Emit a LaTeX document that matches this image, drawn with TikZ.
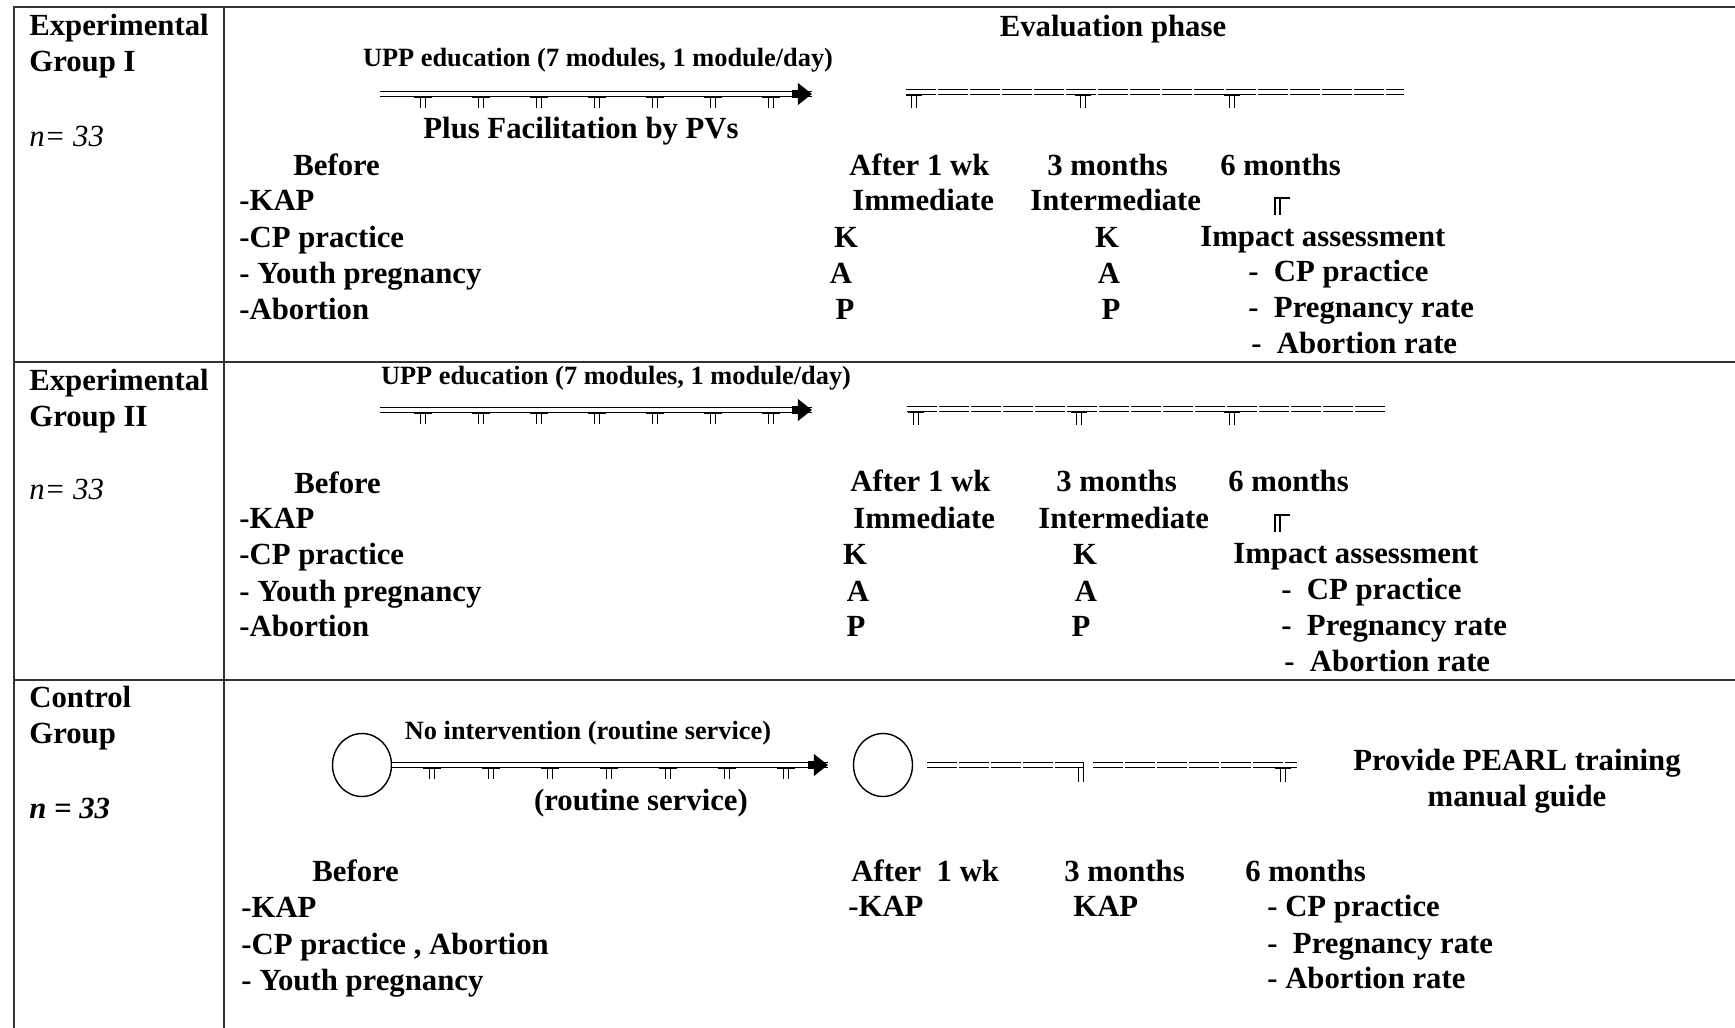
\documentclass[tikz,border=0pt]{standalone}
\usepackage{fontspec}
\setmainfont{Liberation Serif}
\usetikzlibrary{shapes.geometric,arrows.meta}

\newcommand{\bigtxt}{\bfseries\fontsize{17.5}{20.5}\selectfont}
\newcommand{\smalltxt}{\bfseries\fontsize{15}{18}\selectfont}

\begin{document}
\begin{tikzpicture}[x=0.02cm,y=-0.02cm,
    rule/.style={black!80,line width=0.9pt},
    txt/.style={anchor=west,font=\bigtxt,text height=13pt,text depth=2pt},
    ctr/.style={txt,anchor=center},
    upp/.style={anchor=center,font=\smalltxt},
    grp/.style={anchor=west,align=left,font=\bigtxt},
    nsz/.style={anchor=west,font=\itshape\fontsize{17.5}{20.5}\selectfont},
    tline/.style={double,double distance=1.8pt,line width=0.9pt},
    evline/.style={tline,line width=0.8pt,dash pattern=on 17pt off 1.2pt},
    tk/.style={line width=1pt},
    arrhead/.style={line width=4pt,-{Triangle[length=8pt,width=12pt]}},
    oval/.style={ellipse,draw,line width=0.8pt,minimum width=1.18cm,minimum height=1.26cm}]
    \tikzstyle{every node}+=[inner sep=0pt]
    \useasboundingbox (0,0) rectangle (1735,1028);

    % table rules
    \draw [rule] (14,1028) -- (14,7) -- (1735,7);
    \draw [rule] (224,7) -- (224,1028);
    \draw [rule] (14,362) -- (1735,362);
    \draw [rule] (14,680) -- (1735,680);

    % group labels
    \node [grp] (gI) at (29,46) {Experimental\\Group I};
    \node [nsz] (nI) at (29,136) {n= 33};
    \node [grp] (gII) at (29,401) {Experimental\\Group II};
    \node [nsz] (nII) at (29,489) {n= 33};
    \node [grp] (gC) at (29,718) {Control\\Group};
    \node [nsz,font=\bfseries\itshape\fontsize{17.5}{20.5}\selectfont] (nC) at (29,808) {n = 33};

    % experimental group I
    \node [ctr] (evI) at (1113,27) {Evaluation phase};
    \node [upp] (uppI) at (598,60) {UPP education (7 modules, 1 module/day)};
    \coordinate (uI0) at (380,94);
    \coordinate (uI1) at (812,94);
    \draw [tline] (uI0) -- (uI1);
    \draw [arrhead] (uI1) ++(-20,0) -- (uI1);
    \foreach \t in {423,481,539,597,655,713,771}
        \draw [tk] (\t-9,97.5) -- (\t+9,97.5) (\t-2.5,97) -- ++(0,11) (\t+2.5,97) -- ++(0,11);
    \node [ctr] (pvI) at (581,129) {Plus Facilitation by PVs};
    \coordinate (eI0) at (906,92);
    \coordinate (eI1) at (1404,92);
    \draw [evline] (eI0) -- (eI1);
    \foreach \t in {914,1083,1232}
        \draw [tk] (\t-8,95) -- (\t+8,95) (\t-2.5,94.5) -- ++(0,13) (\t+2.5,94.5) -- ++(0,13);
    \node [txt] (bI) at (293,166) {Before};
    \node [txt] (kapI) at (239,201) {-KAP};
    \node [txt] (cpI) at (239,238) {-CP practice};
    \node [txt] (ypI) at (239,274) {- Youth pregnancy};
    \node [txt] (abI) at (239,310) {-Abortion};
    \node [txt] (w1I) at (849,166) {After 1 wk};
    \node [txt] (m3I) at (1047,166) {3 months};
    \node [txt] (m6I) at (1220,166) {6 months};
    \node [txt] (imI) at (852,201) {Immediate};
    \node [txt] (inI) at (1030,201) {Intermediate};
    \draw [tk,line width=1.2pt] (1275,215) -- (1275,198) -- (1290,198) (1280,198) -- (1280,215);
    \node [ctr] (k1I) at (846,238) {K};
    \node [ctr] (a1I) at (841,274) {A};
    \node [ctr] (p1I) at (845,310) {P};
    \node [ctr] (k2I) at (1107,238) {K};
    \node [ctr] (a2I) at (1109,274) {A};
    \node [ctr] (p2I) at (1111,310) {P};
    \node [txt] (iaI) at (1200,237) {Impact assessment};
    \node [txt] (rcI) at (1248,272) {- \ CP practice};
    \node [txt] (rpI) at (1248,308) {- \ Pregnancy rate};
    \node [txt] (raI) at (1251,344) {- \ Abortion rate};

    % experimental group II
    \node [upp] (uppII) at (616,378) {UPP education (7 modules, 1 module/day)};
    \coordinate (uII0) at (380,410);
    \coordinate (uII1) at (812,410);
    \draw [tline] (uII0) -- (uII1);
    \draw [arrhead] (uII1) ++(-20,0) -- (uII1);
    \foreach \t in {423,481,539,597,655,713,771}
        \draw [tk] (\t-9,413.5) -- (\t+9,413.5) (\t-2.5,413) -- ++(0,11) (\t+2.5,413) -- ++(0,11);
    \coordinate (eII0) at (907,409);
    \coordinate (eII1) at (1386,409);
    \draw [evline] (eII0) -- (eII1);
    \foreach \t in {916,1079,1232}
        \draw [tk] (\t-8,412) -- (\t+8,412) (\t-2.5,411.5) -- ++(0,13) (\t+2.5,411.5) -- ++(0,13);
    \node [txt] (bII) at (294,484) {Before};
    \node [txt] (kapII) at (239,519) {-KAP};
    \node [txt] (cpII) at (239,555) {-CP practice};
    \node [txt] (ypII) at (239,592) {- Youth pregnancy};
    \node [txt] (abII) at (239,627) {-Abortion};
    \node [txt] (w1II) at (850,482) {After 1 wk};
    \node [txt] (m3II) at (1056,482) {3 months};
    \node [txt] (m6II) at (1228,482) {6 months};
    \node [txt] (imII) at (853,519) {Immediate};
    \node [txt] (inII) at (1038,519) {Intermediate};
    \draw [tk,line width=1.2pt] (1275,532) -- (1275,515) -- (1290,515) (1280,515) -- (1280,532);
    \node [ctr] (k1II) at (855,555) {K};
    \node [ctr] (a1II) at (858,592) {A};
    \node [ctr] (p1II) at (856,627) {P};
    \node [ctr] (k2II) at (1085,555) {K};
    \node [ctr] (a2II) at (1086,592) {A};
    \node [ctr] (p2II) at (1081,627) {P};
    \node [txt] (iaII) at (1233,554) {Impact assessment};
    \node [txt] (rcII) at (1281,590) {- \ CP practice};
    \node [txt] (rpII) at (1281,626) {- \ Pregnancy rate};
    \node [txt] (raII) at (1284,662) {- \ Abortion rate};

    % control group
    \node [oval] (ctlA) at (362,765) {};
    \node [oval] (ctlB) at (883,765) {};
    \node [upp] (noC) at (588,733) {No intervention (routine service)};
    \coordinate (uC1) at (828,765);
    \draw [tline] (ctlA.east) -- (uC1);
    \draw [arrhead] (uC1) ++(-20,0) -- (uC1);
    \foreach \t in {432,491,550,609,668,727,786}
        \draw [tk] (\t-9,768.5) -- (\t+9,768.5) (\t-2.5,768) -- ++(0,11) (\t+2.5,768) -- ++(0,11);
    \node [ctr] (rsC) at (641,801) {(routine service)};
    \coordinate (eC0) at (927,765);
    \coordinate (eC1) at (1083,765);
    \coordinate (eC2) at (1093,765);
    \coordinate (eC3) at (1297,765);
    \draw [evline] (eC0) -- (eC1);
    \draw [tk] (1083.5,762) -- (1083.5,782) (1078.5,768) -- (1078.5,782);
    \draw [evline] (eC2) -- (eC3);
    \draw [tk] (1275,768) -- (1291,768) (1280.5,767.5) -- ++(0,14) (1285.5,767.5) -- ++(0,14);
    \node [grp,align=center,anchor=center,font=\bfseries\fontsize{17.5}{20.5}\selectfont] (pearl) at (1517,781) {Provide PEARL training\\manual guide};
    \node [txt] (bC) at (312,872) {Before};
    \node [txt] (kapC) at (241,908) {-KAP};
    \node [txt] (cpC) at (241,945) {-CP practice , Abortion};
    \node [txt] (ypC) at (241,981) {- Youth pregnancy};
    \node [txt] (w1C) at (851,872) {After\ \ 1 wk};
    \node [txt] (m3C) at (1064,872) {3 months};
    \node [txt] (m6C) at (1245,872) {6 months};
    \node [txt] (k1C) at (848,907) {-KAP};
    \node [txt] (k2C) at (1073,907) {KAP};
    \node [txt] (rcC) at (1267,907) {- CP practice};
    \node [txt] (rpC) at (1267,944) {- \ Pregnancy rate};
    \node [txt] (raC) at (1267,979) {- Abortion rate};
\end{tikzpicture}
\end{document}
